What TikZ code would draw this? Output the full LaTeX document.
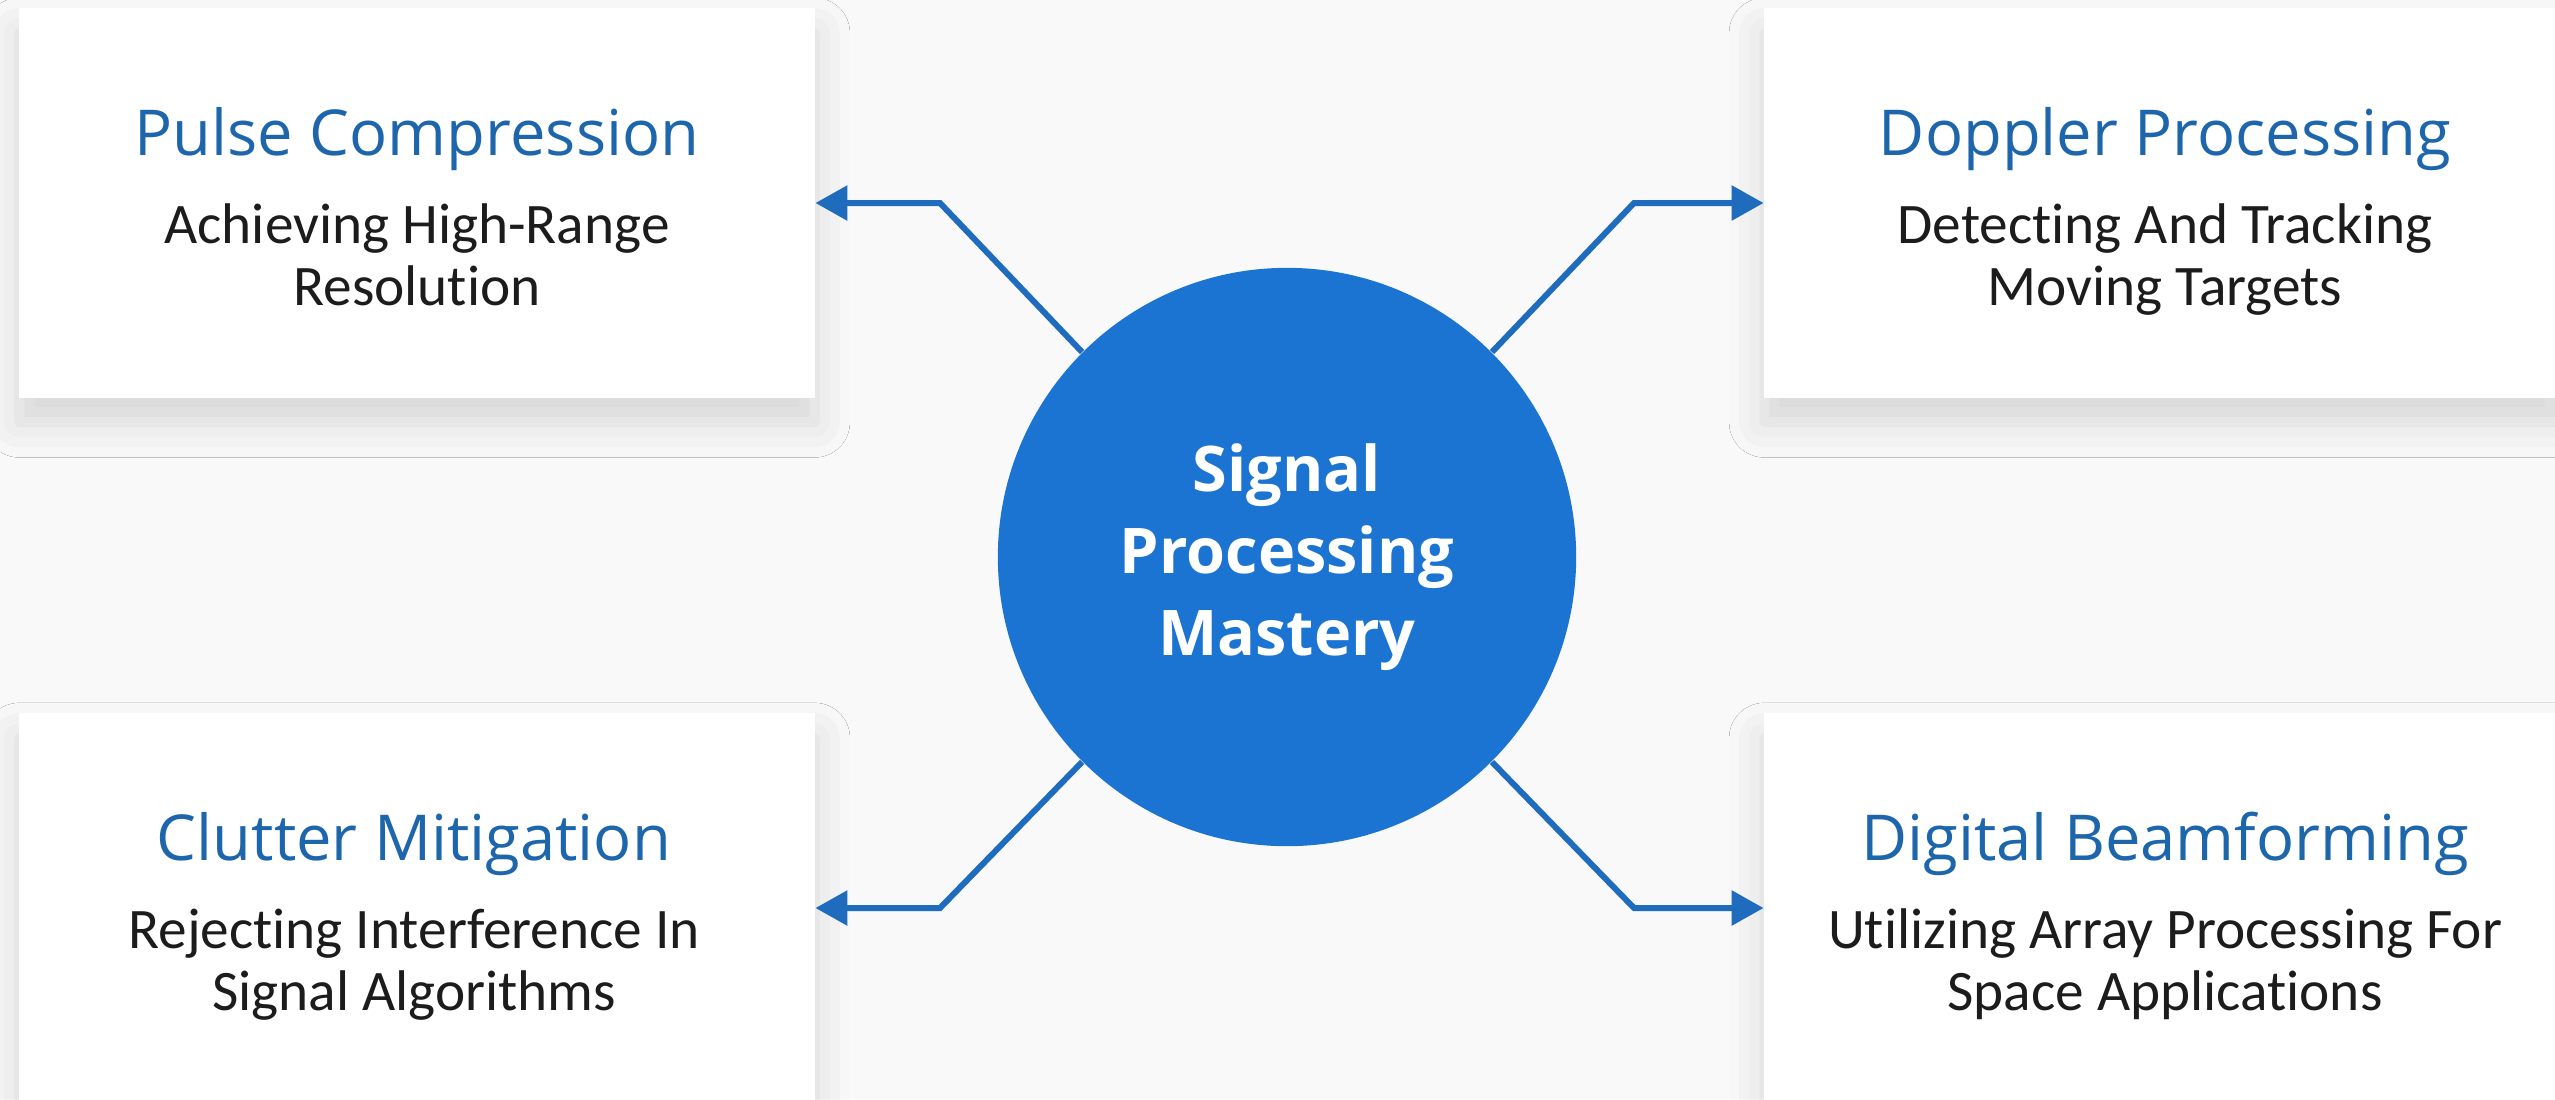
\documentclass[tikz,border=0pt]{standalone}
\usepackage{fontspec}
\setmainfont{Open Sans}
\newfontfamily\subfont[Ligatures=NoCommon]{Carlito}
\usetikzlibrary{arrows.meta,shadows.blur}

\definecolor{hubblue}{RGB}{27,116,210}
\definecolor{linkblue}{RGB}{31,108,190}
\definecolor{headblue}{RGB}{30,102,172}
\definecolor{subgrey}{RGB}{28,28,28}
\definecolor{pagegrey}{RGB}{249,249,249}

\tikzset{
  card/.style={fill=white, minimum width=7.95cm, minimum height=3.89cm, inner sep=0pt,
    blur shadow={shadow xshift=0pt, shadow yshift=-7pt, shadow blur radius=10pt, shadow opacity=14}},
  cardtitle/.style={text=headblue, anchor=base, inner sep=0pt, font=\fontsize{18}{20}\selectfont},
  cardtext/.style={text=subgrey, anchor=base, inner sep=0pt, align=center, font=\subfont\fontsize{16.3}{17.6}\selectfont},
  hub/.style={circle, fill=hubblue, minimum size=5.78cm, inner sep=0pt, text=white, align=center,
    font=\bfseries\fontsize{17.9}{23.3}\selectfont},
  link/.style={draw=linkblue, line width=1.7pt, -{Triangle[length=0.32cm,width=0.34cm]}}
}

\begin{document}
\begin{tikzpicture}[x=0.01cm,y=-0.01cm]

\fill[pagegrey] (0,0) rectangle (2555,1099);
\useasboundingbox (0,0) rectangle (2555,1099);

% the four cards
\node[card] (pulse) at (417,203) {};
\node[card] (doppler) at (2162,203) {};
\node[card] (clutter) at (417,908) {};
\node[card] (beam) at (2162,908) {};

% base of a two-line text is its last line
\node[cardtitle] (pulseT) at (417,155) {Pulse Compression};
\node[cardtext] (pulseS) at (417,305) {Achieving High-Range\\Resolution};
\node[cardtitle] (dopplerT) at (2165,155) {Doppler Processing};
\node[cardtext] (dopplerS) at (2165,305) {Detecting And Tracking\\Moving Targets};
\node[cardtitle] (clutterT) at (414,860) {Clutter Mitigation};
\node[cardtext] (clutterS) at (414,1010) {Rejecting Interference In\\Signal Algorithms};
\node[cardtitle] (beamT) at (2165,860) {Digital Beamforming};
\node[cardtext] (beamS) at (2165,1010) {Utilizing Array Processing For\\Space Applications};

% bends of the links
\coordinate (pulseBend) at (940,203);
\coordinate (dopplerBend) at (1634,203);
\coordinate (clutterBend) at (940,908);
\coordinate (beamBend) at (1634,908);

\node[hub] (hub) at (1287,557) {Signal\\Processing\\Mastery};

\draw[link] (hub.135) -- (pulseBend) -- (pulse.east);
\draw[link] (hub.45) -- (dopplerBend) -- (doppler.west);
\draw[link] (hub.225) -- (clutterBend) -- (clutter.east);
\draw[link] (hub.315) -- (beamBend) -- (beam.west);

\end{tikzpicture}
\end{document}
